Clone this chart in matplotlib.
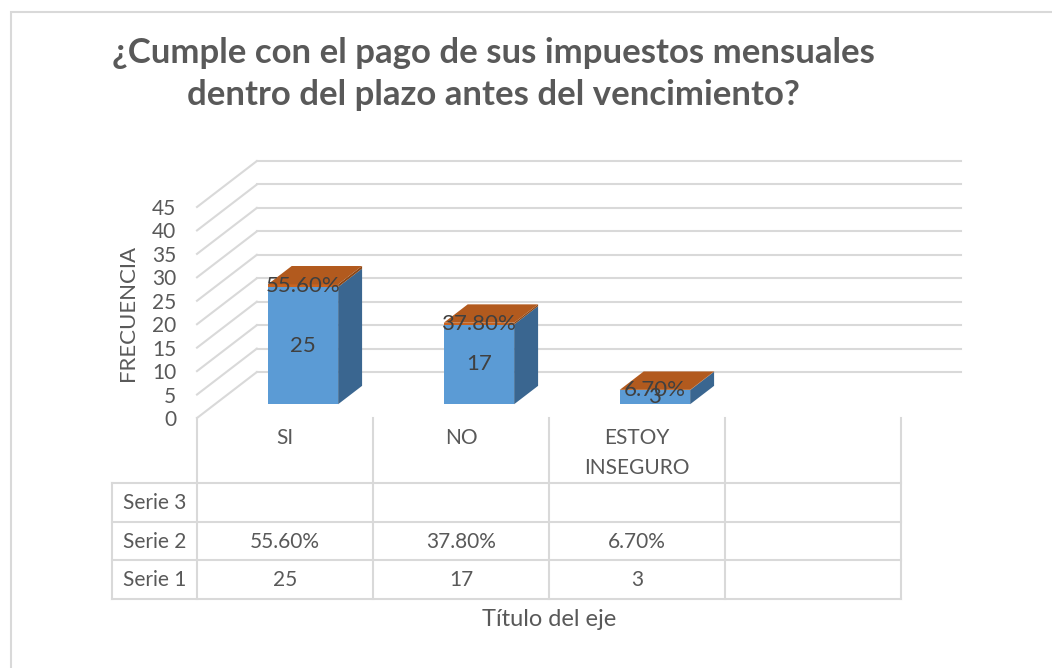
import numpy as np
import matplotlib
matplotlib.use("Agg")
import matplotlib.pyplot as plt
from matplotlib.patches import Polygon, Rectangle
from matplotlib.lines import Line2D

plt.rcParams['font.family'] = ['Lato', 'DejaVu Sans']

# --- Data ---
categories = ["SI", "NO", "ESTOY\nINSEGURO"]
serie1 = [25, 17, 3]
serie2 = [0.556, 0.378, 0.067]
serie3 = []
row_names = ["Serie 3", "Serie 2", "Serie 1"]
yticks = list(range(0, 50, 5))
title = "¿Cumple con el pago de sus impuestos mensuales\ndentro del plazo antes del vencimiento?"

# --- Layout (pixels of a 1052x668 canvas) ---
W, H = 1052, 668


def fx(px):
    return px / W


def fy(py):
    return 1 - py / H


fig = plt.figure(figsize=(W / 100, H / 100), dpi=100)
fig.patch.set_facecolor("white")

# chart border
fig.add_artist(Rectangle((fx(11), fy(700)), fx(1100), fy(12) - fy(700),
                         transform=fig.transFigure, fill=False,
                         edgecolor="#d9d9d9", linewidth=1.5))

ax = fig.add_axes([fx(197), fy(418), fx(901) - fx(197), fy(207) - fy(418)])
ax.set_xlim(-0.5, 3.5)
ax.set_ylim(0, 45)
ax.patch.set_visible(False)
for s in ax.spines.values():
    s.set_visible(False)
ax.set_xticks([])
ax.set_yticks(yticks)
ax.tick_params(axis="y", length=0, pad=15, labelsize=15, labelcolor="#595959")

grid_c = "#d9d9d9"
text_c = "#595959"
wall_dx, wall_dy = 0.34, 9.8     # depth of the 3d box, in data units
f0, f1 = 0.30, 0.70              # bar depth (fraction of the box)
bw = 0.40

# --- walls / gridlines ---
x0, x1 = -0.5, 3.5
for t in yticks:
    ax.plot([x0, x0 + wall_dx], [t, t + wall_dy], color=grid_c, lw=1.5,
            clip_on=False, zorder=1)
    ax.plot([x0 + wall_dx, x1 + wall_dx], [t + wall_dy, t + wall_dy],
            color=grid_c, lw=1.5, clip_on=False, zorder=1)

# --- 3d-ish stacked bars ---
xs = np.arange(len(categories))
bx = xs + f0 * wall_dx
base = f0 * wall_dy
ddx = (f1 - f0) * wall_dx
ddy = (f1 - f0) * wall_dy

layers = [(serie1, "#5b9bd5", "#3a6690"), (serie2, "#c9631f", "#8c4716")]
bottom = np.full(len(categories), base, dtype=float)
for vals, front_c, side_c in layers:
    vals = np.array(vals, dtype=float)
    top = bottom + vals
    ax.bar(bx, vals, bottom=bottom, width=bw, color=front_c, zorder=3,
           clip_on=False)
    for i in range(len(vals)):
        l, r = bx[i] - bw / 2, bx[i] + bw / 2
        side = [(r, bottom[i]), (r + ddx, bottom[i] + ddy),
                (r + ddx, top[i] + ddy), (r, top[i])]
        ax.add_patch(Polygon(side, closed=True, facecolor=side_c,
                             edgecolor="none", zorder=3, clip_on=False))
    bottom = top

# top faces of the stack
for i in range(len(categories)):
    l, r = bx[i] - bw / 2, bx[i] + bw / 2
    t = bottom[i]
    cap = [(l, t), (r, t), (r + ddx, t + ddy), (l + ddx, t + ddy)]
    ax.add_patch(Polygon(cap, closed=True, facecolor="#b25a1e",
                         edgecolor="none", zorder=4, clip_on=False))

# data labels
for i in range(len(categories)):
    ax.text(bx[i], base + serie1[i] / 2, f"{serie1[i]}", ha="center",
            va="center", fontsize=16, color="#404040", zorder=6)
    ax.text(bx[i], base + serie1[i] + serie2[i] / 2, f"{serie2[i] * 100:.2f}%",
            ha="center", va="center", fontsize=16, color="#404040", zorder=6)

# --- data table under the axis ---
tr = ax.get_xaxis_transform()   # x in data, y in axes fraction


def ay(py):
    return (418 - py) / (418 - 207)


col_edges = [-0.5, 0.5, 1.5, 2.5, 3.5]
label_left = -0.5 - (197 - 112) / 176
for xe in col_edges:
    ax.add_line(Line2D([xe, xe], [ay(418), ay(599)], transform=tr,
                       color=grid_c, lw=1.5, clip_on=False))
ax.add_line(Line2D([label_left, label_left], [ay(483), ay(599)], transform=tr,
                   color=grid_c, lw=1.5, clip_on=False))
for py in [483, 522, 560, 599]:
    ax.add_line(Line2D([label_left, 3.5], [ay(py), ay(py)], transform=tr,
                       color=grid_c, lw=1.5, clip_on=False))

for i, c in enumerate(categories):
    ax.text(xs[i], ay(428), c, transform=tr, ha="center", va="top",
            fontsize=15, color=text_c, linespacing=1.6)

row_y = [503, 542, 580]
row_vals = [["" for _ in categories],
            [f"{v * 100:.2f}%" for v in serie2],
            [f"{v}" for v in serie1]]
for name, py, vals in zip(row_names, row_y, row_vals):
    ax.text((label_left - 0.5) / 2, ay(py), name, transform=tr, ha="center",
            va="center", fontsize=15, color=text_c)
    for i, v in enumerate(vals):
        ax.text(xs[i], ay(py), v, transform=tr, ha="center", va="center",
                fontsize=15, color=text_c)

ax.text(1.5, ay(620), "Título del eje", transform=tr, ha="center",
        va="center", fontsize=17, color=text_c)
ax.set_ylabel("FRECUENCIA", fontsize=16, color=text_c, labelpad=10)

fig.text(fx(493), fy(74), title, ha="center", va="center", fontsize=25,
         fontweight="bold", color=text_c, linespacing=1.4)

fig.savefig("out.png", dpi=100)
